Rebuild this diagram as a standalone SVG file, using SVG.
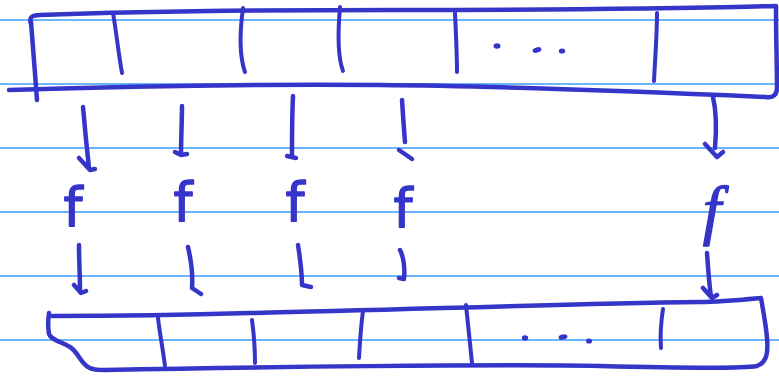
<svg xmlns="http://www.w3.org/2000/svg" width="779" height="383" viewBox="0 0 779 383">
<style>
.rule{stroke:#3a9cff;stroke-width:1.5;fill:none}
.ink{stroke:#3535c9;stroke-width:4.5;fill:none;stroke-linecap:round;stroke-linejoin:round}
.thin{stroke-width:4}
.dot{fill:#3535c9}
.f{fill:#3535c9;stroke:#3535c9;stroke-width:1.3;stroke-linejoin:round;font-family:"DejaVu Sans",sans-serif;font-size:54px;text-anchor:middle}
</style>
<rect width="779" height="383" fill="#ffffff"/>
<g id="paper">
<line class="rule" x1="0" y1="20" x2="779" y2="20"/>
<line class="rule" x1="0" y1="84" x2="779" y2="84"/>
<line class="rule" x1="0" y1="148" x2="779" y2="148"/>
<line class="rule" x1="0" y1="212" x2="779" y2="212"/>
<line class="rule" x1="0" y1="276" x2="779" y2="276"/>
<line class="rule" x1="0" y1="340" x2="779" y2="340"/>
</g>
<g id="input-array">
<path class="ink" d="M31,24 C29,18 31,15 40,15 C120,12 250,10 400,10 C550,10 700,8 776,6 C776,40 777,70 777,88 C777,95 773,98 766,97 C650,92 500,86 380,85 C250,84 100,87 9,90"/>
<path class="ink" d="M31,22 C33,45 35,75 37,100"/>
<path class="ink thin" d="M113,13 C116,30 118,50 122,73"/>
<path class="ink thin" d="M243,8 C240,30 239,55 245,72"/>
<path class="ink thin" d="M340,7 C338,30 337,55 343,71"/>
<path class="ink thin" d="M455,13 C456,35 457,55 457,72"/>
<path class="ink thin" d="M657,13 C657,35 655,60 654,81"/>
<ellipse class="dot" cx="497" cy="46" rx="3.5" ry="2.8"/>
<ellipse class="dot" cx="537" cy="50" rx="4.5" ry="2.6" transform="rotate(-15 537 50)"/>
<ellipse class="dot" cx="562" cy="51" rx="3.2" ry="2.6"/>
</g>
<g id="f1"><text class="f" x="73" y="226">f</text></g>
<g id="f2"><text class="f" x="183" y="221">f</text></g>
<g id="f3"><text class="f" x="295" y="221">f</text></g>
<g id="f4"><text class="f" x="403" y="227">f</text></g>
<g id="f5"><text class="f" x="712" y="232" style="font-family:'Liberation Serif',serif;font-style:italic;font-size:66px">f</text></g>
<g id="output-array">
<path class="ink" d="M49,313 C48,320 48,328 49,334 C51,340 62,342 70,347 C78,352 80,362 88,367 C92,370 98,370 105,370 C250,367 500,364 600,366 C680,368 740,369 757,366 C768,362 768,350 767,338 C766,325 763,310 761,298 C740,300 720,302 700,302 C550,304 400,310 250,313 C150,316 90,316 52,316"/>
<path class="ink thin" d="M158,318 C160,335 163,350 165,366"/>
<path class="ink thin" d="M252,320 C254,335 255,350 255,363"/>
<path class="ink thin" d="M363,311 C361,325 360,340 359,358"/>
<path class="ink thin" d="M466,305 C468,325 470,345 472,363"/>
<path class="ink thin" d="M663,309 C661,322 660,335 661,348"/>
<ellipse class="dot" cx="525" cy="338" rx="3.2" ry="2.8"/>
<ellipse class="dot" cx="563" cy="337" rx="4.5" ry="2.6" transform="rotate(-12 563 337)"/>
<ellipse class="dot" cx="589" cy="341" rx="3" ry="2.6"/>
</g>
<g id="connectors">
<path class="ink" d="M83,107 C85,130 87,150 89,168 M79,158 L90,170 L95,169"/>
<path class="ink" d="M182,106 C182,120 181,140 181,154 M175,152 L181,155 L187,154"/>
<path class="ink" d="M293,96 C292,115 292,140 292,157 M287,156 L296,158"/>
<path class="ink" d="M402,100 C403,115 404,130 405,142 M399,150 L412,159"/>
<path class="ink" d="M713,97 C716,110 717,125 715,148 M705,144 L717,157 L723,152"/>
<path class="ink" d="M79,245 C79,260 80,275 80,291 M74,285 L81,293 L86,291"/>
<path class="ink" d="M188,247 C191,260 193,275 192,288 L201,294"/>
<path class="ink" d="M298,245 C300,258 302,272 302,285 L311,287"/>
<path class="ink" d="M400,250 C404,258 405,268 404,279 L399,278"/>
<path class="ink" d="M707,253 C708,268 709,282 711,297 M703,288 L712,298 L717,295"/>
</g>
</svg>
